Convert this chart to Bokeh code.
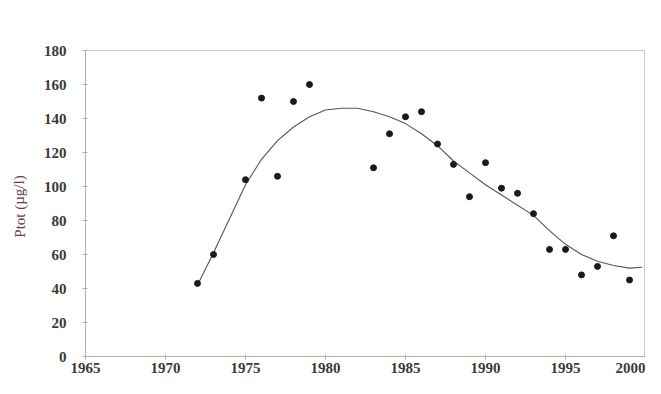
from bokeh.plotting import figure
from bokeh.models import Range1d, FixedTicker, Label
from bokeh.embed import file_html
from bokeh.resources import INLINE

# Observed annual mean total phosphorus
obs_year = [1972, 1973, 1975, 1976, 1977, 1978, 1979, 1983, 1984, 1985, 1986,
            1987, 1988, 1989, 1990, 1991, 1992, 1993, 1994, 1995, 1996, 1997,
            1998, 1999]
obs_ptot = [43, 60, 104, 152, 106, 150, 160, 111, 131, 141, 144,
            125, 113, 94, 114, 99, 96, 84, 63, 63, 48, 53,
            71, 45]

# Fitted trend curve
fit_year = [1972, 1973, 1974, 1975, 1976, 1977, 1978, 1979, 1980, 1981, 1982,
            1983, 1984, 1985, 1986, 1987, 1988, 1989, 1990, 1991, 1992, 1993,
            1994, 1995, 1996, 1997, 1998, 1999, 1999.8]
fit_ptot = [42, 61, 81, 101, 116, 127, 135, 141, 145, 146, 146,
            144, 141, 137, 131, 124, 115, 108, 101, 95, 89, 83,
            74, 66, 60, 56, 53.5, 52, 52.5]

x_ticks = [1965, 1970, 1975, 1980, 1985, 1990, 1995, 2000]
y_ticks = [0, 20, 40, 60, 80, 100, 120, 140, 160, 180]

FONT = "Liberation Serif"
TXT = "#3a3a3a"
AX = "#b0b0b0"

p = figure(width=645, height=378, output_backend="svg", toolbar_location=None,
           x_range=Range1d(1965, 2000), y_range=Range1d(0, 180))
p.min_border_left = 85
p.min_border_right = 0
p.min_border_top = 50
p.min_border_bottom = 22
p.background_fill_color = "white"
p.border_fill_color = "white"
p.outline_line_color = "#c8c8c8"
p.grid.visible = False

p.xaxis.ticker = FixedTicker(ticks=x_ticks)
p.yaxis.ticker = FixedTicker(ticks=y_ticks)
for ax in (p.xaxis, p.yaxis):
    ax.axis_line_color = AX
    ax.major_tick_line_color = AX
    ax.minor_tick_line_color = None
    ax.major_tick_in = 2
    ax.major_tick_out = 3
    ax.major_label_text_font = FONT
    ax.major_label_text_font_size = "15px"
    ax.major_label_text_color = TXT
    ax.major_label_text_font_style = "bold"
p.yaxis.major_label_standoff = 16
p.xaxis.major_label_standoff = 3

p.line(fit_year, fit_ptot, line_color="#555555", line_width=1.1)
p.scatter(obs_year, obs_ptot, size=6, marker="circle",
          fill_color="#1a1a1a", line_color="#1a1a1a")

lab = Label(x=-5, y=150, x_units="screen", y_units="screen",
            text="Ptot (µg/l)", angle=1.5708, angle_units="rad",
            text_font=FONT, text_font_size="15px", text_color="#6a3a3a",
            text_align="center", text_baseline="middle")
p.add_layout(lab, "left")

open("out.html", "w").write(file_html(p, INLINE))
